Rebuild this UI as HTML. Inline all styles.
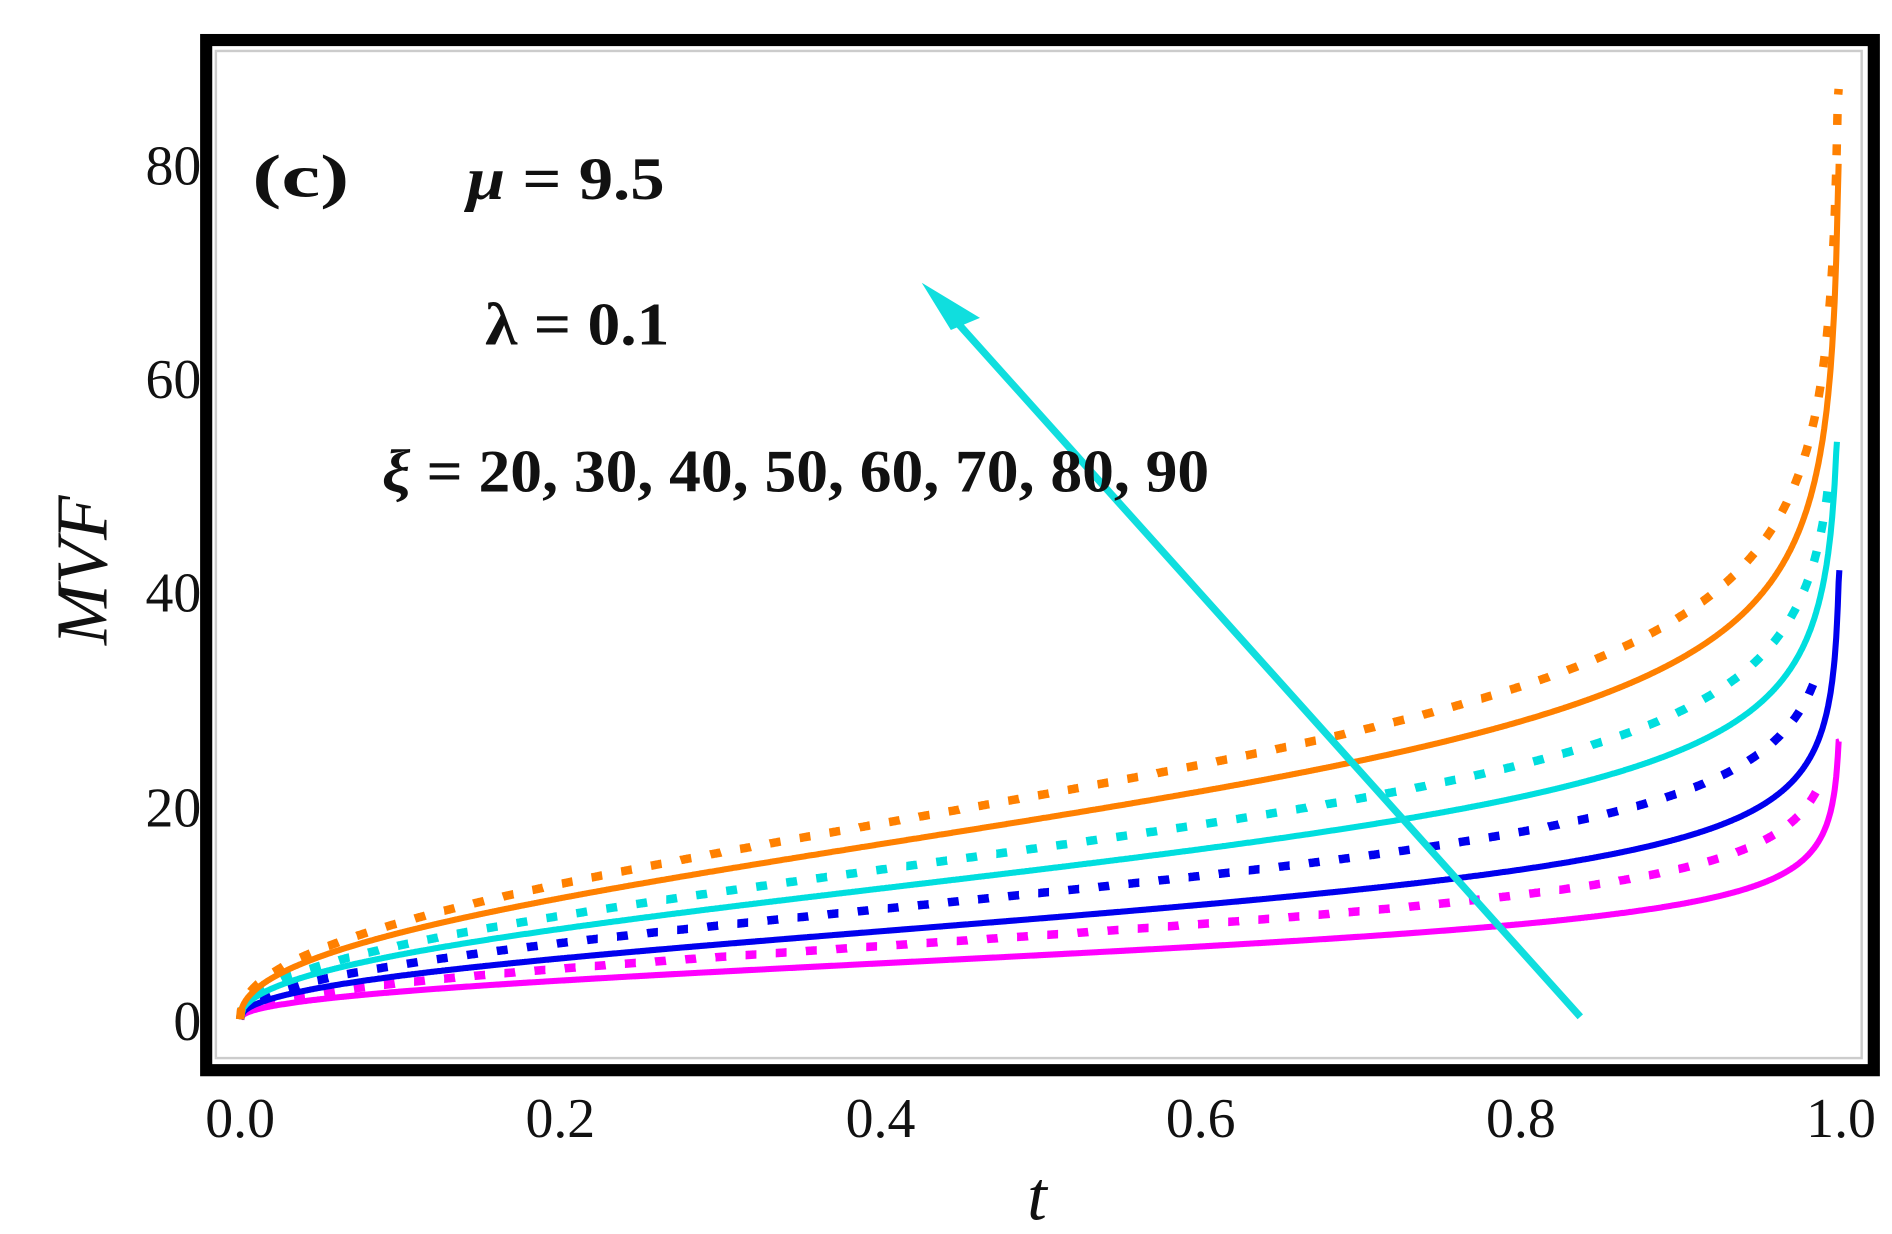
<!DOCTYPE html>
<html><head><meta charset="utf-8"><style>
html,body{margin:0;padding:0;background:#fff;}
svg{display:block;}
text{font-family:"Liberation Serif",serif;fill:#111;}
</style></head><body>
<svg id="s" width="1892" height="1234" viewBox="0 0 1560 1017" preserveAspectRatio="none" xmlns="http://www.w3.org/2000/svg">
<rect x="0" y="0" width="1560" height="1017" fill="#fff"/>
<rect x="178" y="42" width="1357" height="830" fill="none" stroke="#ccc" stroke-width="2"/>
<g id="curves"></g>
<line x1="1303" y1="838" x2="775" y2="250" stroke="#10dede" stroke-width="6"/>
<polygon points="760,233 808,262 784,272" fill="#10dede"/>
<rect x="170" y="33" width="1375" height="849" fill="none" stroke="#000" stroke-width="10"/>
<g font-size="46" text-anchor="end">
<text x="166" y="152">80</text><text x="166" y="328">60</text><text x="166" y="504">40</text><text x="166" y="681">20</text><text x="166" y="857">0</text>
</g>
<g font-size="46" text-anchor="middle">
<text x="198" y="937">0.0</text><text x="462" y="937">0.2</text><text x="726" y="937">0.4</text><text x="990" y="937">0.6</text><text x="1254" y="937">0.8</text><text x="1518" y="937">1.0</text>
</g>
<text x="855" y="1005" font-size="58" font-style="italic" text-anchor="middle">t</text>
<text transform="translate(88,470) rotate(-90)" font-size="60" font-style="italic" text-anchor="middle">MVF</text>
<g font-weight="bold" font-size="50">
<text x="208" y="162" textLength="80" lengthAdjust="spacingAndGlyphs">(c)</text>
<text x="385" y="164" textLength="163" lengthAdjust="spacingAndGlyphs"><tspan font-style="italic">μ</tspan> = 9.5</text>
<text x="400" y="284" textLength="152" lengthAdjust="spacingAndGlyphs">λ = 0.1</text>
<text x="315" y="405" textLength="682" lengthAdjust="spacingAndGlyphs"><tspan font-style="italic">ξ</tspan> = 20, 30, 40, 50, 60, 70, 80, 90</text>
</g>
</svg>
<script>
var series=[
 ["#ff00ff",6.8,26,false],["#ff00ff",8.9,22.7,true],
 ["#0000ee",10.7,42,false],["#0000ee",13.4,32,true],
 ["#00dede",15.9,54,false],["#00dede",18.2,51,true],
 ["#ff8000",21.3,80,false],["#ff8000",23.8,87,true]];
var g=document.getElementById('curves'),h='';
function X(t){return 198+1320*t;}function Y(v){return 840-8.8125*v;}
series.forEach(function(s){
 var k=s[1]/0.954,pts=[],t,v;
 for(var i=0;i<=2000;i++){t=i/2000*0.99995;v=k*Math.pow(t,0.45)/Math.pow(1-t,0.2);
  if(v>=s[2]){pts.push([X(t),Y(s[2])]);break;} pts.push([X(t),Y(v)]);}
 var d='M'+pts.map(function(p){return p[0].toFixed(1)+','+p[1].toFixed(1)}).join('L');
 h+='<path d="'+d+'" fill="none" stroke="'+s[0]+'" stroke-width="'+(s[3]?7:5)+'"'+(s[3]?' stroke-dasharray="9,16"':'')+'/>';
});
g.innerHTML=h;
</script>
</body></html>
